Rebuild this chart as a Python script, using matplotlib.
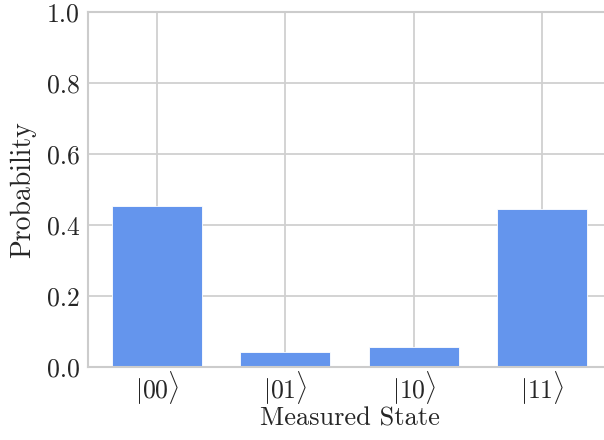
import matplotlib
matplotlib.use("Agg")
import matplotlib.pyplot as plt
import seaborn as sns

states = [r"$|00\rangle$", r"$|01\rangle$", r"$|10\rangle$", r"$|11\rangle$"]
probabilities = [0.454, 0.043, 0.056, 0.445]
yticks = [0.0, 0.2, 0.4, 0.6, 0.8, 1.0]

sns.set_style("whitegrid")
plt.rcParams["font.family"] = "serif"
plt.rcParams["font.serif"] = ["cmr10"]
plt.rcParams["mathtext.fontset"] = "cm"
plt.rcParams["axes.formatter.use_mathtext"] = True

fig = plt.figure(figsize=(6.04, 4.40), dpi=100)
ax = fig.add_axes([88 / 604, 73 / 440, 523 / 604, 355 / 440])

x = list(range(len(states)))
ax.bar(x, probabilities, width=0.7, color="cornflowerblue", edgecolor="white", linewidth=0.6, zorder=2)

ax.set_xlim(-0.535, 3.535)
ax.set_ylim(0, 1.0)
ax.set_xticks(x)
ax.set_xticklabels(states)
ax.set_yticks(yticks)
ax.set_yticklabels(["%.1f" % t for t in yticks])
ax.tick_params(axis="y", labelsize=18.5, length=0, pad=6)
ax.tick_params(axis="x", labelsize=18.5, length=0, pad=2)
ax.set_xlabel("Measured State", fontsize=19, labelpad=0)
ax.set_ylabel("Probability", fontsize=20, labelpad=8)

for s in ["left", "bottom", "top"]:
    ax.spines[s].set_color("#cccccc")
    ax.spines[s].set_linewidth(1.5)
ax.grid(color="#d0d0d0", linewidth=1.3)

fig.savefig("out.png", dpi=100)
